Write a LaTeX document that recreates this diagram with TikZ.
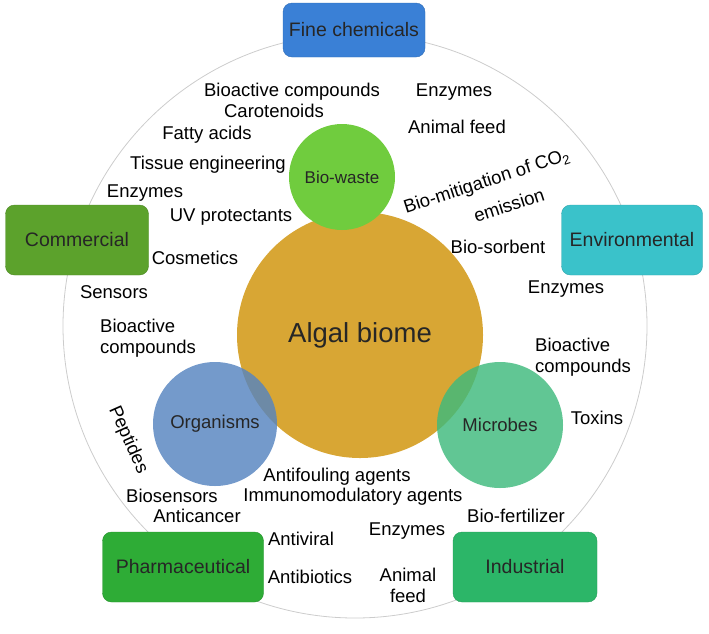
\documentclass[tikz,border=0pt]{standalone}
\usepackage{fontspec}
\setmainfont{Liberation Sans}
\usetikzlibrary{positioning}
\definecolor{fcc}{RGB}{58,128,214}
\definecolor{cmc}{RGB}{92,162,44}
\definecolor{evc}{RGB}{58,194,202}
\definecolor{phc}{RGB}{46,172,54}
\definecolor{inc}{RGB}{44,182,104}
\definecolor{bwc}{RGB}{112,204,62}
\definecolor{abc}{RGB}{216,166,52}
\definecolor{ogc}{RGB}{86,132,192}
\definecolor{mbc}{RGB}{62,186,124}
\tikzset{box/.style={draw=#1!85!black,fill=#1,rounded corners=9pt,text=black!85,inner sep=0pt,
  font=\fontsize{19.5}{22}\selectfont},
 blob/.style={circle,fill=#1,inner sep=0pt,text=black!85,font=\fontsize{18.5}{21}\selectfont},
 lab/.style={inner sep=0pt,font=\fontsize{18.5}{21}\selectfont},
 ring/.style={draw=black!20,line width=.8pt}}
\begin{document}
\begin{tikzpicture}[x=1pt,y=-1pt]
\useasboundingbox (0,0) rectangle (709,633);
\node[ring,circle,minimum size=584pt] (rim) at (355,326) {};
% circles
\node[blob=abc,minimum size=246pt,font=\fontsize{27.5}{30}\selectfont] (algal) at (360,335) {Algal biome};
\node[blob=bwc,minimum size=106pt,font=\fontsize{17}{20}\selectfont] (waste) at (342,177) {Bio-waste};
\node[blob=ogc,minimum size=124pt,fill opacity=.82,text opacity=1] (orgs) at (215,424) {Organisms};
\node[blob=mbc,minimum size=126pt,fill opacity=.82,text opacity=1] (micro) at (500,425) {Microbes};
% boxes
\node[box=fcc,minimum width=142pt,minimum height=54pt] (fine) at (354,30) {Fine chemicals};
\node[box=cmc,minimum width=143pt,minimum height=70pt] (comm) at (77,240) {Commercial};
\node[box=evc,minimum width=141pt,minimum height=70pt] (env) at (632,240) {Environmental};
\node[box=phc,minimum width=161pt,minimum height=70pt] (pharm) at (183,567) {Pharmaceutical};
\node[box=inc,minimum width=144pt,minimum height=70pt] (ind) at (525,567) {Industrial};
% labels
\foreach \n/\x/\y/\t in {bioa/292/92/Bioactive compounds,caro/274/111/Carotenoids,
  enzt/454/92/Enzymes,feedt/457/127/Animal feed,fatty/207/135/Fatty acids,
  tissue/208/165/Tissue engineering,enzl/145/193/Enzymes,uvp/231/217/UV protectants,
  cosm/195/258/Cosmetics,sorb/498/247/Bio-sorbent,sens/114/292/Sensors,enzr/566/289/Enzymes,
  tox/597/418/Toxins,antif/337/477/Antifouling agents,immu/353/497/Immunomodulatory agents,
  bios/172/496/Biosensors,canc/197/516/Anticancer,enzb/407/531/Enzymes,fert/516/516/Bio-fertilizer,
  viral/301/539/Antiviral,biot/310/577/Antibiotics}
  \node[lab] (\n) at (\x,\y) {\t};
\node[lab,align=left,anchor=west] (bioc) at (100,338) {Bioactive\\compounds};
\node[lab,align=left,anchor=west] (biom) at (535,357) {Bioactive\\compounds};
\node[lab,align=center] (feedb) at (408,585) {Animal\\feed};
\node[lab,rotate=-66] (pept) at (128,440) {Peptides};
\node[lab,rotate=18] (mitig) at (487,182) {Bio-mitigation of CO\textsubscript{2}};
\node[lab,rotate=18] (emis) at (509,205) {emission};
\end{tikzpicture}
\end{document}
